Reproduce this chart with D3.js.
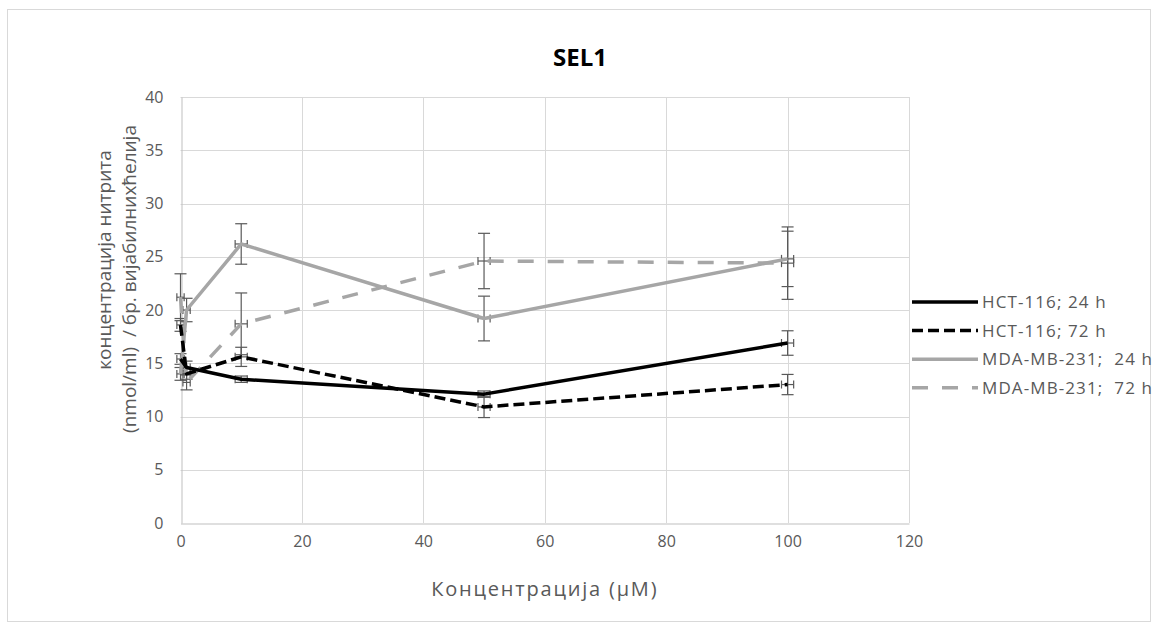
<!DOCTYPE html>
<html>
<head>
<meta charset="utf-8">
<script src="https://cdn.jsdelivr.net/npm/d3@7"></script>
<style>
  html, body { margin: 0; padding: 0; background: #fff; }
  svg { display: block; font-family: "Open Sans", "Noto Sans", sans-serif; }
</style>
</head>
<body>
<svg id="chart" width="1158" height="632"></svg>
<script>
// Concentrations (µM)
const concentrations = [0, 1, 10, 50, 100];

// Nitrite per viable cell, mean and standard deviation
const hct24 = [15.4, 14.6, 13.5, 12.1, 16.9];
const hct24Err = [0.5, 0.6, 0.3, 0.3, 1.15];
const hct72 = [18.6, 14.0, 15.6, 10.9, 13.0];
const hct72Err = [0.6, 0.5, 0.9, 1.0, 0.95];
const mda24 = [14.0, 20.0, 26.2, 19.2, 24.8];
const mda24Err = [0.6, 1.1, 1.9, 2.1, 2.6];
const mda72 = [21.2, 13.2, 18.7, 24.6, 24.4];
const mda72Err = [2.2, 0.7, 2.9, 2.6, 3.4];

// horizontal error on concentration
const xErr = [0.6, 0.6, 1, 1, 1];

const seriesNames = ["HCT-116; 24 h", "HCT-116; 72 h", "MDA-MB-231;  24 h", "MDA-MB-231;  72 h"];
const xTicks = [0, 20, 40, 60, 80, 100, 120];
const yTicks = [0, 5, 10, 15, 20, 25, 30, 35, 40];

const series = [
  { name: seriesNames[0], values: hct24, err: hct24Err, color: "#000000", dash: null },
  { name: seriesNames[1], values: hct72, err: hct72Err, color: "#000000", dash: "11,5" },
  { name: seriesNames[2], values: mda24, err: mda24Err, color: "#a6a6a6", dash: null },
  { name: seriesNames[3], values: mda72, err: mda72Err, color: "#a6a6a6", dash: "16,14" }
];

const svg = d3.select("#chart");
const plot = { left: 180.5, right: 909, top: 97, bottom: 523 };

// chart frame
svg.append("rect")
  .attr("x", 7.5).attr("y", 9.5)
  .attr("width", 1143).attr("height", 612)
  .attr("fill", "#fff").attr("stroke", "#d9d9d9");

const x = d3.scaleLinear().domain([0, 120]).range([plot.left, plot.right]);
const y = d3.scaleLinear().domain([0, 40]).range([plot.bottom, plot.top]);

// gridlines
const grid = svg.append("g");
grid.selectAll(".hg").data(yTicks.filter(t => t > 0)).join("line")
  .attr("x1", plot.left).attr("x2", plot.right)
  .attr("y1", d => Math.round(y(d)) + 0.5).attr("y2", d => Math.round(y(d)) + 0.5)
  .attr("stroke", "#d9d9d9").attr("stroke-width", 1);
grid.selectAll(".vg").data(xTicks.filter(t => t > 0)).join("line")
  .attr("y1", plot.top).attr("y2", plot.bottom)
  .attr("x1", d => Math.round(x(d)) + 0.5).attr("x2", d => Math.round(x(d)) + 0.5)
  .attr("stroke", "#d9d9d9").attr("stroke-width", 1);

// axes
const xAxis = svg.append("g")
  .attr("transform", `translate(0,${Math.round(plot.bottom) + 0.5})`)
  .call(d3.axisBottom(x).tickValues(xTicks).tickSize(0).tickPadding(12));
const yAxis = svg.append("g")
  .attr("transform", `translate(${Math.round(plot.left) + 0.5},0)`)
  .call(d3.axisLeft(y).tickValues(yTicks).tickSize(0).tickPadding(18));
[xAxis, yAxis].forEach(a => {
  a.select(".domain").attr("stroke", "#bfbfbf").attr("stroke-width", 1);
  a.selectAll("text").attr("fill", "#595959").attr("font-size", 16)
    .attr("font-family", "\"Open Sans\", sans-serif");
});

// error bars
const eb = svg.append("g").attr("stroke", "#595959").attr("stroke-width", 1.2).attr("fill", "none");
series.forEach(s => {
  s.values.forEach((v, i) => {
    const cx = x(concentrations[i]);
    const y1 = y(v + s.err[i]), y2 = y(v - s.err[i]);
    eb.append("line").attr("x1", cx).attr("x2", cx).attr("y1", y1).attr("y2", y2);
    eb.append("line").attr("x1", cx - 6).attr("x2", cx + 6).attr("y1", y1).attr("y2", y1);
    eb.append("line").attr("x1", cx - 6).attr("x2", cx + 6).attr("y1", y2).attr("y2", y2);
    const xa = x(concentrations[i] - xErr[i]), xb = x(concentrations[i] + xErr[i]);
    const cy = y(v);
    eb.append("line").attr("x1", xa).attr("x2", xb).attr("y1", cy).attr("y2", cy);
    eb.append("line").attr("x1", xa).attr("x2", xa).attr("y1", cy - 4).attr("y2", cy + 4);
    eb.append("line").attr("x1", xb).attr("x2", xb).attr("y1", cy - 4).attr("y2", cy + 4);
  });
});

// series lines
const line = d3.line().x((d, i) => x(concentrations[i])).y(d => y(d));
const lines = svg.append("g");
series.slice().reverse().forEach(s => {
  lines.append("path")
    .datum(s.values)
    .attr("d", line)
    .attr("fill", "none")
    .attr("stroke", s.color)
    .attr("stroke-width", 3.5)
    .attr("stroke-linejoin", "round")
    .attr("stroke-dasharray", s.dash);
});

// title
svg.append("text")
  .attr("x", 580).attr("y", 66)
  .attr("text-anchor", "middle")
  .attr("font-size", 24).attr("font-weight", "bold")
  .attr("fill", "#000")
  .text("SEL1");

// axis titles
svg.append("text")
  .attr("x", (plot.left + plot.right) / 2).attr("y", 596)
  .attr("text-anchor", "middle")
  .attr("font-size", 20).attr("letter-spacing", 1.8).attr("fill", "#595959")
  .text("Концентрација (µM)");

svg.append("text")
  .attr("transform", "translate(111,260) rotate(-90)")
  .attr("text-anchor", "middle")
  .attr("font-size", 19).attr("fill", "#595959")
  .text("концентрација нитрита");
svg.append("text")
  .attr("transform", "translate(136,279) rotate(-90)")
  .attr("text-anchor", "middle")
  .attr("font-size", 19).attr("fill", "#595959")
  .attr("xml:space", "preserve")
  .text("(nmol/ml)  / бр. вијабилнихћелија");

// legend
const legend = svg.append("g");
series.forEach((s, i) => {
  const ly = 302 + i * 28.6;
  legend.append("line")
    .attr("x1", 912).attr("x2", 978).attr("y1", ly).attr("y2", ly)
    .attr("stroke", s.color).attr("stroke-width", 3.5)
    .attr("stroke-dasharray", s.dash);
  legend.append("text")
    .attr("x", 982).attr("y", ly + 6)
    .attr("font-size", 17).attr("letter-spacing", 1.1).attr("fill", "#595959")
    .attr("xml:space", "preserve")
    .text(s.name);
});
</script>
</body>
</html>
